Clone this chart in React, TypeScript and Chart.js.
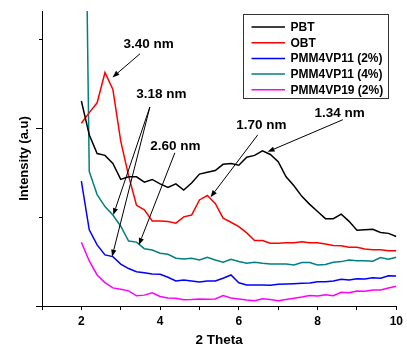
import React, { useEffect, useRef } from 'react';
import { Chart, registerables } from 'chart.js';

Chart.register(...registerables);

// 2θ values (degrees)
const theta = [
  2.0, 2.2, 2.4, 2.6, 2.8, 3.0, 3.2, 3.4, 3.6, 3.8,
  4.0, 4.2, 4.4, 4.6, 4.8, 5.0, 5.2, 5.4, 5.6, 5.8,
  6.0, 6.2, 6.4, 6.6, 6.8, 7.0, 7.2, 7.4, 7.6, 7.8,
  8.0, 8.2, 8.4, 8.6, 8.8, 9.0, 9.2, 9.4, 9.6, 9.8, 10.0,
];

const pbt = [
  2.30, 1.92, 1.71, 1.69, 1.60, 1.42, 1.45, 1.45, 1.39, 1.42,
  1.37, 1.33, 1.37, 1.30, 1.38, 1.48, 1.50, 1.52, 1.59, 1.60,
  1.58, 1.67, 1.69, 1.74, 1.70, 1.62, 1.45, 1.35, 1.23, 1.14,
  1.06, 0.98, 0.98, 1.03, 0.95, 0.85, 0.855, 0.86, 0.825, 0.815, 0.78,
];

const obt = [
  2.05, 2.17, 2.28, 2.62, 2.43, 1.85, 1.46, 1.13, 1.08, 0.955,
  0.955, 0.947, 0.93, 1.00, 1.02, 1.19, 1.24, 1.15, 0.985, 0.94,
  0.89, 0.82, 0.735, 0.735, 0.705, 0.705, 0.71, 0.71, 0.72, 0.71,
  0.71, 0.695, 0.68, 0.675, 0.66, 0.66, 0.64, 0.63, 0.63, 0.62, 0.62,
];

const pmm11_2 = [
  1.40, 0.855, 0.685, 0.573, 0.554, 0.47, 0.42, 0.385, 0.372, 0.36,
  0.356, 0.322, 0.281, 0.292, 0.281, 0.27, 0.281, 0.281, 0.311, 0.348,
  0.26, 0.236, 0.236, 0.236, 0.232, 0.243, 0.247, 0.251, 0.255, 0.258,
  0.273, 0.273, 0.281, 0.30, 0.292, 0.307, 0.303, 0.318, 0.311, 0.34, 0.337,
];

const pmm11_4 = [
  8.4, 1.51, 1.25, 1.115, 1.02, 0.895, 0.728, 0.717, 0.643, 0.629,
  0.592, 0.58, 0.536, 0.528, 0.536, 0.517, 0.547, 0.517, 0.491, 0.525,
  0.50, 0.479, 0.491, 0.479, 0.472, 0.472, 0.472, 0.461, 0.487, 0.487,
  0.461, 0.465, 0.491, 0.498, 0.517, 0.509, 0.509, 0.502, 0.543, 0.525, 0.547,
];

const pmm19_2 = [
  0.716, 0.505, 0.348, 0.262, 0.203, 0.188, 0.17, 0.114, 0.122, 0.149,
  0.107, 0.09, 0.087, 0.071, 0.073, 0.079, 0.075, 0.078, 0.118, 0.09,
  0.079, 0.067, 0.06, 0.082, 0.073, 0.06, 0.073, 0.087, 0.10, 0.118,
  0.112, 0.127, 0.116, 0.154, 0.149, 0.169, 0.165, 0.18, 0.18, 0.202, 0.221,
];

const seriesNames = ['PBT', 'OBT', 'PMM4VP11 (2%)', 'PMM4VP11 (4%)', 'PMM4VP19 (2%)'];
const seriesValues = [pbt, obt, pmm11_2, pmm11_4, pmm19_2];
const seriesColors = ['#000000', '#ff0000', '#0000ff', '#008080', '#ff00ff'];

const xLabeledTicks = [2, 4, 6, 8, 10];
const yMajorTicks = [0, 2];
const yMinorTicks = [1, 3];

// annotation labels, in data units: text centre, arrows [fromX, fromY, toX, toY]
const annLabels = ['3.40 nm', '3.18 nm', '2.60 nm', '1.70 nm', '1.34 nm'];
const annTextX = [3.71, 4.03, 4.39, 6.57, 8.56];
const annTextY = [2.94, 2.38, 1.79, 2.03, 2.16];
const annArrows = [
  [[3.49, 2.83, 2.79, 2.565]],
  [[3.74, 2.233, 2.81, 1.02], [3.74, 2.233, 2.78, 0.554]],
  [[4.375, 1.719, 3.46, 0.685]],
  [[6.48, 1.92, 5.28, 1.22]],
  [[8.64, 2.09, 6.73, 1.73]],
];

const FONT = '"Liberation Sans", Arial, Helvetica, sans-serif';

function drawArrow(ctx: CanvasRenderingContext2D, x1: number, y1: number, x2: number, y2: number) {
  const ang = Math.atan2(y2 - y1, x2 - x1);
  const len = 7;
  const hw = 2.6;
  const bx = x2 - len * Math.cos(ang);
  const by = y2 - len * Math.sin(ang);
  ctx.beginPath();
  ctx.moveTo(x1, y1);
  ctx.lineTo(bx, by);
  ctx.stroke();
  ctx.beginPath();
  ctx.moveTo(x2, y2);
  ctx.lineTo(bx + hw * Math.sin(ang), by - hw * Math.cos(ang));
  ctx.lineTo(bx - hw * Math.sin(ang), by + hw * Math.cos(ang));
  ctx.closePath();
  ctx.fill();
}

const extrasPlugin = {
  id: 'extras',
  afterDraw(chart: any) {
    const ctx: CanvasRenderingContext2D = chart.ctx;
    const xs = chart.scales.x;
    const ys = chart.scales.y;
    const left = chart.chartArea.left;
    ctx.save();
    // y tick marks
    ctx.strokeStyle = '#000';
    ctx.lineWidth = 1;
    const yt = [...yMajorTicks.map((v) => [v, 6]), ...yMinorTicks.map((v) => [v, 3])];
    yt.forEach(([v, l]) => {
      const py = Math.round(ys.getPixelForValue(v)) + 0.5;
      ctx.beginPath();
      ctx.moveTo(left - l, py);
      ctx.lineTo(left, py);
      ctx.stroke();
    });

    // annotations
    ctx.fillStyle = '#000';
    ctx.strokeStyle = '#000';
    ctx.lineWidth = 1;
    ctx.font = `bold 13.5px ${FONT}`;
    ctx.textAlign = 'center';
    ctx.textBaseline = 'middle';
    annLabels.forEach((t, i) => {
      ctx.fillText(t, xs.getPixelForValue(annTextX[i]), ys.getPixelForValue(annTextY[i]));
      annArrows[i].forEach((a) => {
        drawArrow(
          ctx,
          xs.getPixelForValue(a[0]),
          ys.getPixelForValue(a[1]),
          xs.getPixelForValue(a[2]),
          ys.getPixelForValue(a[3])
        );
      });
    });

    // legend box
    const bx = 243.5, by = 14.5, bw = 145, bh = 84;
    ctx.fillStyle = '#fff';
    ctx.fillRect(bx, by, bw, bh);
    ctx.strokeStyle = '#333';
    ctx.lineWidth = 1;
    ctx.strokeRect(bx, by, bw, bh);
    ctx.font = `bold 12px ${FONT}`;
    ctx.textAlign = 'left';
    ctx.textBaseline = 'middle';
    chart.data.datasets.forEach((ds: any, i: number) => {
      const ry = 27 + i * 15.7;
      ctx.strokeStyle = ds.borderColor;
      ctx.lineWidth = 1.5;
      ctx.beginPath();
      ctx.moveTo(251.5, ry);
      ctx.lineTo(285, ry);
      ctx.stroke();
      ctx.fillStyle = '#000';
      ctx.fillText(ds.label, 290.5, ry + 0.5);
    });
    ctx.restore();
  },
};

export default function App() {
  const ref = useRef<HTMLCanvasElement>(null);

  useEffect(() => {
    if (!ref.current) return;
    const datasets = seriesNames.map((name, i) => ({
      label: name,
      data: theta.map((t, j) => ({ x: t, y: seriesValues[i][j] })),
      borderColor: seriesColors[i],
      backgroundColor: seriesColors[i],
      borderWidth: 1.5,
      pointRadius: 0,
      tension: 0,
      fill: false,
    }));
    const chart = new Chart(ref.current, {
      type: 'line',
      data: { datasets },
      options: {
        animation: false,
        responsive: false,
        devicePixelRatio: 1,
        layout: { padding: { top: 11, right: 8, bottom: 0, left: 0 } },
        plugins: { legend: { display: false }, tooltip: { enabled: false } },
        scales: {
          x: {
            type: 'linear',
            min: 1,
            max: 10,
            afterFit: (s: any) => {
              s.height = 41;
            },
            border: { display: true, color: '#000', width: 1 },
            grid: { display: true, drawOnChartArea: false, drawTicks: true, tickLength: 4, tickColor: '#000' },
            ticks: {
              stepSize: 1,
              padding: 4,
              color: '#000',
              font: { family: FONT, size: 12, weight: 'bold' },
              maxRotation: 0,
              autoSkip: false,
              callback: (v: any) => (xLabeledTicks.includes(Number(v)) ? String(v) : ''),
            },
            title: {
              display: true,
              text: '2 Theta',
              color: '#000',
              font: { family: FONT, size: 13.5, weight: 'bold', lineHeight: 1 },
              padding: { top: 0, bottom: 0 },
            },
          },
          y: {
            type: 'linear',
            min: 0,
            max: 3.31,
            afterFit: (s: any) => {
              s.width = 42;
            },
            border: { display: true, color: '#000', width: 1 },
            grid: { display: false, drawTicks: false },
            ticks: { display: false, stepSize: 1 },
            title: {
              display: true,
              text: 'Intensity (a.u)',
              color: '#000',
              font: { family: FONT, size: 13, weight: 'bold', lineHeight: 1 },
              padding: { top: 17.5, bottom: 0 },
            },
          },
        },
      },
      plugins: [extrasPlugin],
    });
    return () => chart.destroy();
  }, []);

  return (
    <div style={{ position: 'fixed', left: 0, top: 0, width: 407, height: 347, background: '#fff' }}>
      <canvas ref={ref} width={407} height={347} style={{ display: 'block' }} />
    </div>
  );
}
